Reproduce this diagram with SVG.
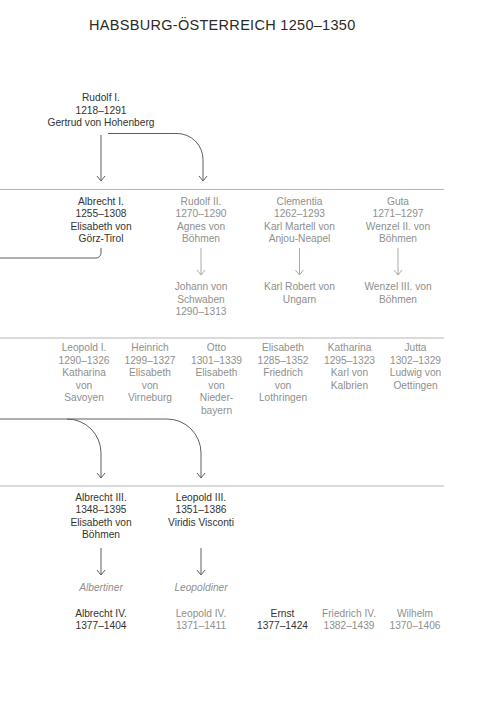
<svg xmlns="http://www.w3.org/2000/svg" width="500" height="722" viewBox="0 0 500 722">
<style>
text{font-family:"Liberation Sans",Arial,sans-serif;font-size:10.2px;text-anchor:middle}
.d{fill:#34332f}
.g{fill:#8f8f8d}
.i{font-style:italic}
.title{font-size:14.5px;letter-spacing:0.3px;text-anchor:start;fill:#2b2a27}
.sep{stroke:#b5b5b2;stroke-width:1.2;fill:none}
.cd{stroke:#5f5e57;stroke-width:1;fill:none}
.cg{stroke:#a9a9a6;stroke-width:1;fill:none}
.ad{marker-end:url(#ahd)}
.ag{marker-end:url(#ahg)}
</style>
<defs>
<marker id="ahd" markerUnits="userSpaceOnUse" markerWidth="8" markerHeight="10" refX="5.5" refY="4.5" orient="auto" viewBox="0 0 8 10">
<path d="M0.5,0.5 L5.5,4.5 L0.5,8.5" fill="none" stroke="#5f5e57" stroke-width="1"/>
</marker>
<marker id="ahg" markerUnits="userSpaceOnUse" markerWidth="8" markerHeight="10" refX="5.5" refY="4.5" orient="auto" viewBox="0 0 8 10">
<path d="M0.5,0.5 L5.5,4.5 L0.5,8.5" fill="none" stroke="#a9a9a6" stroke-width="1"/>
</marker>
</defs>
<rect width="500" height="722" fill="#ffffff"/>
<text class="title" x="89" y="29.5">HABSBURG-ÖSTERREICH 1250–1350</text>

<g id="separators">
<path class="sep" d="M0,189.5 H444"/>
<path class="sep" d="M0,338 H444"/>
<path class="sep" d="M0,486 H444"/>
</g>

<g id="connectors">
<path class="cd ad" d="M101,135 V181"/>
<path class="cd ad" d="M108,133.5 H177 A26,26 0 0 1 203,159.5 V181"/>
<path class="cd" d="M101,248 V253 A5,5 0 0 1 96,258 H0"/>
<path class="cg ag" d="M201,248 V275"/>
<path class="cg ag" d="M299.5,248 V275"/>
<path class="cg ag" d="M398,248 V275"/>
<path class="cd ad" d="M0,419 H67 A34,34 0 0 1 101,453 V478"/>
<path class="cd ad" d="M67,419 H167 A34,34 0 0 1 201,453 V478"/>
<path class="cd ad" d="M101,548 V575"/>
<path class="cd ad" d="M201,548 V575"/>
</g>

<g id="rudolf1" class="d">
<text x="101" y="101">Rudolf I.</text>
<text x="101" y="113.5">1218–1291</text>
<text x="101" y="126">Gertrud von Hohenberg</text>
</g>

<g id="albrecht1" class="d">
<text x="101" y="204.5">Albrecht I.</text>
<text x="101" y="217">1255–1308</text>
<text x="101" y="229.5">Elisabeth von</text>
<text x="101" y="242">Görz-Tirol</text>
</g>
<g id="rudolf2" class="g">
<text x="201" y="204.5">Rudolf II.</text>
<text x="201" y="217">1270–1290</text>
<text x="201" y="229.5">Agnes von</text>
<text x="201" y="242">Böhmen</text>
</g>
<g id="clementia" class="g">
<text x="299.5" y="204.5">Clementia</text>
<text x="299.5" y="217">1262–1293</text>
<text x="299.5" y="229.5">Karl Martell von</text>
<text x="299.5" y="242">Anjou-Neapel</text>
</g>
<g id="guta" class="g">
<text x="398" y="204.5">Guta</text>
<text x="398" y="217">1271–1297</text>
<text x="398" y="229.5">Wenzel II. von</text>
<text x="398" y="242">Böhmen</text>
</g>

<g id="johann" class="g">
<text x="201" y="290">Johann von</text>
<text x="201" y="302.5">Schwaben</text>
<text x="201" y="315">1290–1313</text>
</g>
<g id="karlrobert" class="g">
<text x="299.5" y="290">Karl Robert von</text>
<text x="299.5" y="302.5">Ungarn</text>
</g>
<g id="wenzel3" class="g">
<text x="398" y="290">Wenzel III. von</text>
<text x="398" y="302.5">Böhmen</text>
</g>

<g id="leopold1" class="g">
<text x="84" y="351">Leopold I.</text>
<text x="84" y="363.6">1290–1326</text>
<text x="84" y="376.2">Katharina</text>
<text x="84" y="388.8">von</text>
<text x="84" y="401.4">Savoyen</text>
</g>
<g id="heinrich" class="g">
<text x="150" y="351">Heinrich</text>
<text x="150" y="363.6">1299–1327</text>
<text x="150" y="376.2">Elisabeth</text>
<text x="150" y="388.8">von</text>
<text x="150" y="401.4">Virneburg</text>
</g>
<g id="otto" class="g">
<text x="216.5" y="351">Otto</text>
<text x="216.5" y="363.6">1301–1339</text>
<text x="216.5" y="376.2">Elisabeth</text>
<text x="216.5" y="388.8">von</text>
<text x="216.5" y="401.4">Nieder-</text>
<text x="216.5" y="414">bayern</text>
</g>
<g id="elisabeth" class="g">
<text x="283" y="351">Elisabeth</text>
<text x="283" y="363.6">1285–1352</text>
<text x="283" y="376.2">Friedrich</text>
<text x="283" y="388.8">von</text>
<text x="283" y="401.4">Lothringen</text>
</g>
<g id="katharina" class="g">
<text x="349.5" y="351">Katharina</text>
<text x="349.5" y="363.6">1295–1323</text>
<text x="349.5" y="376.2">Karl von</text>
<text x="349.5" y="388.8">Kalbrien</text>
</g>
<g id="jutta" class="g">
<text x="415.5" y="351">Jutta</text>
<text x="415.5" y="363.6">1302–1329</text>
<text x="415.5" y="376.2">Ludwig von</text>
<text x="415.5" y="388.8">Oettingen</text>
</g>

<g id="albrecht3" class="d">
<text x="101" y="500.5">Albrecht III.</text>
<text x="101" y="513">1348–1395</text>
<text x="101" y="525.5">Elisabeth von</text>
<text x="101" y="538">Böhmen</text>
</g>
<g id="leopold3" class="d">
<text x="201" y="500.5">Leopold III.</text>
<text x="201" y="513">1351–1386</text>
<text x="201" y="525.5">Viridis Visconti</text>
</g>

<g id="albertiner" class="g i">
<text x="101" y="591">Albertiner</text>
</g>
<g id="leopoldiner" class="g i">
<text x="201" y="591">Leopoldiner</text>
</g>

<g id="albrecht4" class="d">
<text x="101" y="616.5">Albrecht IV.</text>
<text x="101" y="629">1377–1404</text>
</g>
<g id="leopold4" class="g">
<text x="201" y="616.5">Leopold IV.</text>
<text x="201" y="629">1371–1411</text>
</g>
<g id="ernst" class="d">
<text x="282.5" y="616.5">Ernst</text>
<text x="282.5" y="629">1377–1424</text>
</g>
<g id="friedrich4" class="g">
<text x="349" y="616.5">Friedrich IV.</text>
<text x="349" y="629">1382–1439</text>
</g>
<g id="wilhelm" class="g">
<text x="415" y="616.5">Wilhelm</text>
<text x="415" y="629">1370–1406</text>
</g>
</svg>
